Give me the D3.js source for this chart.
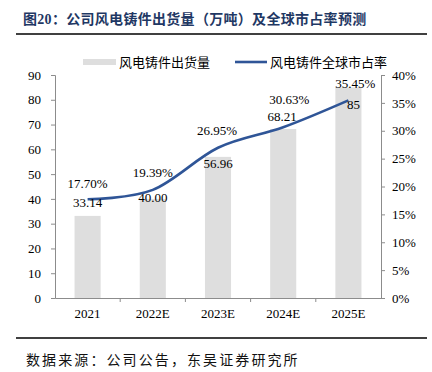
<!DOCTYPE html>
<html>
<head>
<meta charset="utf-8">
<script src="https://cdn.jsdelivr.net/npm/d3@7"></script>
<style>
  body { margin: 0; background: #fff; }
  svg { display: block; font-family: "Liberation Serif", "Noto Sans CJK SC", serif; }
</style>
</head>
<body>
<div id="chart"></div>
<script>
// Data
const years = ["2021", "2022E", "2023E", "2024E", "2025E"];
const shipments = [33.14, 40.00, 56.96, 68.21, 85];
const shipmentLabels = ["33.14", "40.00", "56.96", "68.21", "85"];
const marketShare = [17.70, 19.39, 26.95, 30.63, 35.45];
const leftTicks = [0, 10, 20, 30, 40, 50, 60, 70, 80, 90];
const rightTicks = [0, 5, 10, 15, 20, 25, 30, 35, 40];

const W = 432, H = 372;
const margin = { top: 75, right: 51, bottom: 74, left: 55 },
      width = W - margin.left - margin.right,
      height = H - margin.top - margin.bottom;

const axisColor = "#8c8c8c";

const root = d3.select("#chart")
    .append("svg")
    .attr("width", W)
    .attr("height", H);

// Title + rules
root.append("text")
    .attr("x", 23)
    .attr("y", 19)
    .attr("dy", "0.35em")
    .attr("fill", "#1f3864")
    .style("font-size", "14px")
    .style("font-weight", "bold")
    .style("letter-spacing", "0.3px")
    .text("图20：公司风电铸件出货量（万吨）及全球市占率预测");

root.append("line")
    .attr("x1", 16).attr("x2", 427)
    .attr("y1", 34).attr("y2", 34)
    .attr("stroke", "#000").attr("stroke-width", 1.6);

root.append("line")
    .attr("x1", 16).attr("x2", 427)
    .attr("y1", 338).attr("y2", 338)
    .attr("stroke", "#000").attr("stroke-width", 1.6);

root.append("text")
    .attr("x", 26)
    .attr("y", 360)
    .attr("dy", "0.35em")
    .attr("fill", "#111")
    .style("font-size", "14px")
    .style("letter-spacing", "2.1px")
    .text("数据来源：公司公告，东吴证券研究所");

const svg = root.append("g")
    .attr("transform", `translate(${margin.left},${margin.top})`);

// Scales
const x = d3.scaleBand()
    .domain(years)
    .range([0, width])
    .padding(0);

const y = d3.scaleLinear()
    .domain([0, 90])
    .range([height, 0]);

const y2 = d3.scaleLinear()
    .domain([0, 40])
    .range([height, 0]);

const barW = x.bandwidth() * 0.4;

// Bars
svg.selectAll(".bar")
    .data(shipments)
    .enter()
    .append("rect")
    .attr("x", (d, i) => x(years[i]) + (x.bandwidth() - barW) / 2)
    .attr("y", d => y(d))
    .attr("width", barW)
    .attr("height", d => height - y(d))
    .attr("fill", "#dedede");

// Axes
const leftAxis = svg.append("g")
    .call(d3.axisLeft(y).tickValues(leftTicks).tickSize(4).tickPadding(10));

const rightAxis = svg.append("g")
    .attr("transform", `translate(${width},0)`)
    .call(d3.axisRight(y2).tickValues(rightTicks).tickSize(4).tickPadding(7)
        .tickFormat(d => d + "%"));

const xAxis = svg.append("g")
    .attr("transform", `translate(0,${height})`)
    .call(d3.axisBottom(x).tickSize(0).tickPadding(11));

// category boundary ticks
svg.append("g")
    .selectAll("line")
    .data(years.slice(1))
    .enter()
    .append("line")
    .attr("x1", d => x(d)).attr("x2", d => x(d))
    .attr("y1", height).attr("y2", height + 4)
    .attr("stroke", axisColor);

[leftAxis, rightAxis, xAxis].forEach(g => {
    g.select(".domain").attr("stroke", axisColor);
    g.selectAll(".tick line").attr("stroke", axisColor);
    g.selectAll(".tick text")
        .attr("fill", "#000")
        .style("font-family", "'Liberation Serif', serif")
        .style("font-size", "13px");
});

// Market share line
const cx = i => x(years[i]) + x.bandwidth() / 2;

const line = d3.line()
    .x((d, i) => cx(i))
    .y(d => y2(d))
    .curve(d3.curveCardinal.tension(0));

svg.append("path")
    .datum(marketShare)
    .attr("fill", "none")
    .attr("stroke", "#2f5597")
    .attr("stroke-width", 2.6)
    .attr("d", line);

// Data labels (nudged like the reference)
const shareDx = [0, 0, -1, 6, 7];
const shareDy = [-16, -17, -17, -28, -17];
const barDx = [0, 0, 0, -1, 5];
const barDy = [-13, -1, 7, -13, 17];

svg.selectAll(".share-label")
    .data(marketShare)
    .enter()
    .append("text")
    .attr("x", (d, i) => cx(i) + shareDx[i])
    .attr("y", (d, i) => y2(d) + shareDy[i])
    .attr("dy", "0.35em")
    .attr("text-anchor", "middle")
    .style("font-size", "13px")
    .text(d => d.toFixed(2) + "%");

svg.selectAll(".bar-label")
    .data(shipments)
    .enter()
    .append("text")
    .attr("x", (d, i) => cx(i) + barDx[i])
    .attr("y", (d, i) => y(d) + barDy[i])
    .attr("dy", "0.35em")
    .attr("text-anchor", "middle")
    .style("font-size", "13px")
    .text((d, i) => shipmentLabels[i]);

// Legend
const legend = root.append("g");

legend.append("rect")
    .attr("x", 83).attr("y", 59)
    .attr("width", 33).attr("height", 6)
    .attr("fill", "#dedede");

legend.append("text")
    .attr("x", 119).attr("y", 62)
    .attr("dy", "0.35em")
    .style("font-size", "13px")
    .text("风电铸件出货量");

legend.append("line")
    .attr("x1", 235).attr("x2", 267)
    .attr("y1", 62).attr("y2", 62)
    .attr("stroke", "#2f5597")
    .attr("stroke-width", 2.6);

legend.append("text")
    .attr("x", 270).attr("y", 62)
    .attr("dy", "0.35em")
    .style("font-size", "13px")
    .text("风电铸件全球市占率");
</script>
</body>
</html>
